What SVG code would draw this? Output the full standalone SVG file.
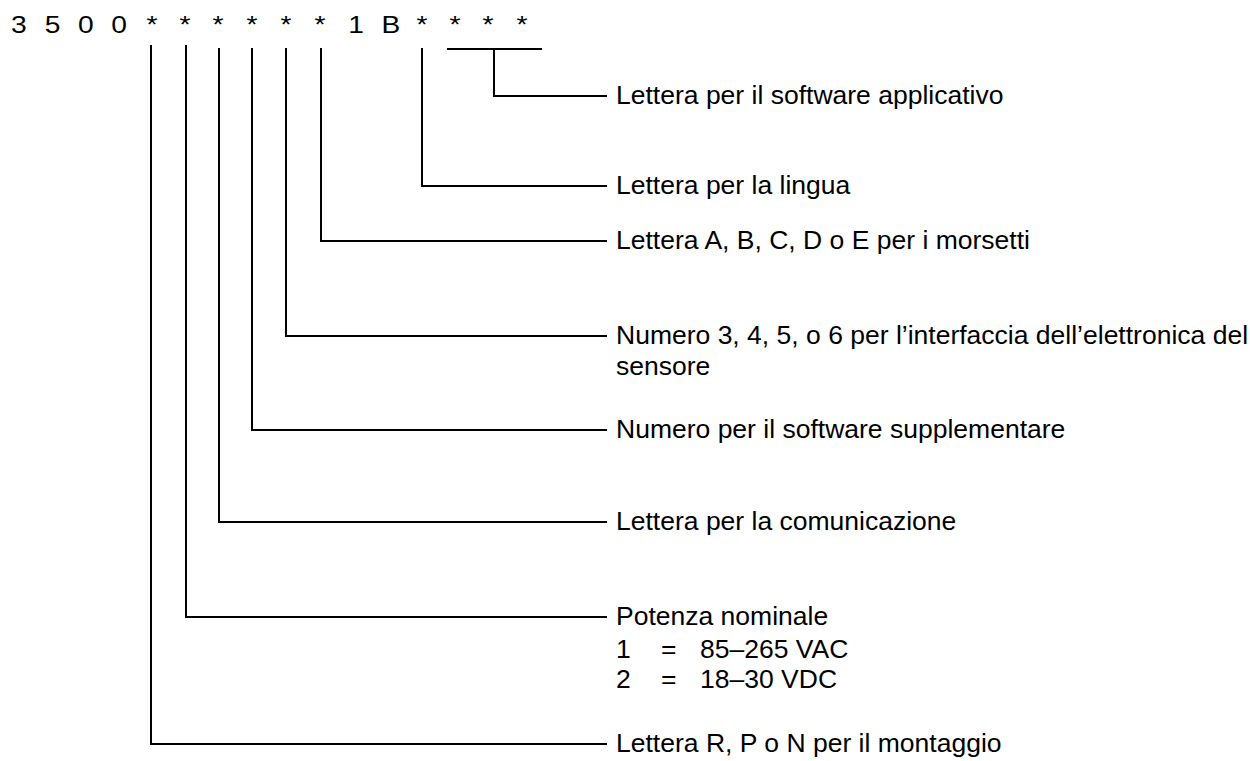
<svg xmlns="http://www.w3.org/2000/svg" width="1250" height="761" viewBox="0 0 1250 761">
  <style>
    .t { font-family: "Liberation Sans", Arial, Helvetica, sans-serif; font-size: 25.5px; fill: #000; }
    .code { font-family: "Liberation Sans", Arial, Helvetica, sans-serif; font-size: 23.5px; fill: #000; }
    .ln { fill: none; stroke: #000; stroke-width: 2; stroke-linecap: butt; stroke-linejoin: miter; }
  </style>
  <rect width="1250" height="761" fill="#fff"/>

  <g id="code">
    <text class="code" text-anchor="middle" transform="scale(1.2 1)" y="33" x="15.7 29.7 43.75 57.6 71.5 85.4 99.2 113 126.7 140.5 154.2 168 181.7 195.9 210 224.2 238.3 252.5 266.7 281.7 296.7 311.3 325.8 338.8 351.7 365.5 379.2 393 406.7 420.9 435" xml:space="preserve">3 5 0 0 * * * * * * 1 B * * * *</text>
  </g>

  <g id="connectors" class="ln">
    <polyline points="151,45 151,744 607,744"/>
    <polyline points="186,45 186,617 607,617"/>
    <polyline points="219,48 219,522 607,522"/>
    <polyline points="252,48 252,430 607,430"/>
    <polyline points="286,48 286,336 607,336"/>
    <polyline points="321,48 321,241 607,241"/>
    <polyline points="422,48 422,186 607,186"/>
    <line x1="447" y1="49" x2="542" y2="49"/>
    <polyline points="494,49 494,96 607,96"/>
  </g>

  <g id="label-software-applicativo">
    <text class="t" transform="translate(616 104) scale(1.04 1)">Lettera per il software applicativo</text>
  </g>
  <g id="label-lingua">
    <text class="t" transform="translate(616 194) scale(1.04 1)">Lettera per la lingua</text>
  </g>
  <g id="label-morsetti">
    <text class="t" transform="translate(616 249) scale(1.04 1)">Lettera A, B, C, D o E per i morsetti</text>
  </g>
  <g id="label-interfaccia">
    <text class="t" transform="translate(616 344) scale(1.04 1)">Numero 3, 4, 5, o 6 per l’interfaccia dell’elettronica del</text>
    <text class="t" transform="translate(616 375) scale(1.04 1)">sensore</text>
  </g>
  <g id="label-software-supplementare">
    <text class="t" transform="translate(616 438) scale(1.04 1)">Numero per il software supplementare</text>
  </g>
  <g id="label-comunicazione">
    <text class="t" transform="translate(616 530) scale(1.04 1)">Lettera per la comunicazione</text>
  </g>
  <g id="label-potenza">
    <text class="t" transform="translate(616 625) scale(1.04 1)">Potenza nominale</text>
    <text class="t" transform="translate(616 658) scale(1.04 1)"><tspan x="0">1</tspan><tspan x="43.3">=</tspan><tspan x="80.8">85–265 VAC</tspan></text>
    <text class="t" transform="translate(616 688) scale(1.04 1)"><tspan x="0">2</tspan><tspan x="43.3">=</tspan><tspan x="80.8">18–30 VDC</tspan></text>
  </g>
  <g id="label-montaggio">
    <text class="t" transform="translate(616 752) scale(1.04 1)">Lettera R, P o N per il montaggio</text>
  </g>
</svg>
